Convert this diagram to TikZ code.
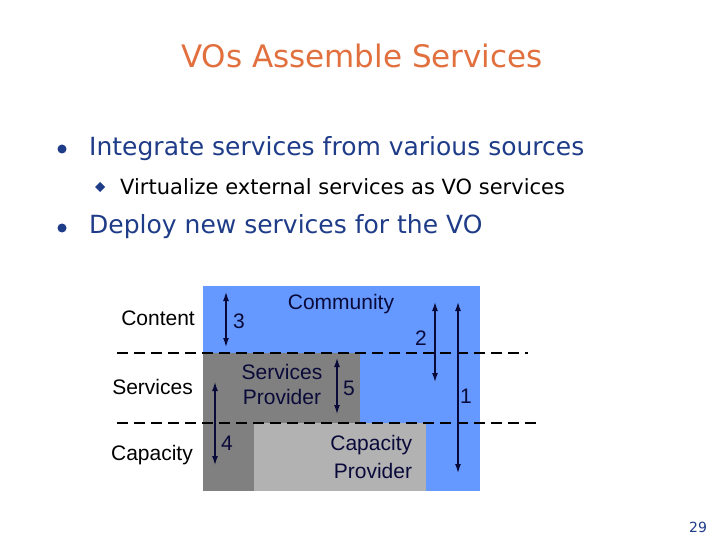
\documentclass[tikz,border=0pt]{standalone}
\usepackage{fontspec}
\setmainfont{DejaVu Sans}
\newfontfamily\arial{Liberation Sans}
\usetikzlibrary{arrows.meta}
\definecolor{ttl}{HTML}{E2703F}
\definecolor{bl}{HTML}{1F3C88}
\definecolor{navy}{HTML}{0A0A3A}
\definecolor{cblue}{HTML}{6699FF}
\definecolor{dgray}{HTML}{808080}
\definecolor{lgray}{HTML}{B2B2B2}
\tikzset{
 lbl/.style={font=\arial\fontsize{21}{24}\selectfont, text=black, inner sep=0},
 dlbl/.style={font=\arial\fontsize{21}{24}\selectfont, text=navy, inner sep=0, align=center},
 dbl/.style={{Latex[length=9pt,width=6pt]}-{Latex[length=9pt,width=6pt]}, line width=1.3pt, draw=navy},
 dashline/.style={line width=1.8pt, dash pattern=on 11pt off 6pt}
}
\begin{document}
\begin{tikzpicture}[x=1pt,y=-1pt]
\useasboundingbox[fill=white] (0,0) rectangle (720,540);
\node[font=\fontsize{31}{36}\selectfont, text=ttl] (title) at (362,56) {VOs Assemble Services};
\fill[bl] (62,149) circle (4.5);
\node[anchor=west, font=\fontsize{25}{30}\selectfont, text=bl, inner sep=0] (b1) at (89,149) {Integrate services from various sources};
\fill[bl] (95,187) -- (100,182) -- (105,187) -- (100,192) -- cycle;
\node[anchor=west, font=\fontsize{21}{26}\selectfont, text=black, inner sep=0] (b2) at (120,187) {Virtualize external services as VO services};
\fill[bl] (62,228) circle (4.5);
\node[anchor=west, font=\fontsize{25}{30}\selectfont, text=bl, inner sep=0] (b3) at (89,227) {Deploy new services for the VO};
% diagram
\fill[cblue] (203,286) rectangle (480,491);
\fill[dgray] (203,353) rectangle (360,423);
\fill[dgray] (203,423) rectangle (254,491);
\fill[lgray] (254,423) rectangle (426,491);
\draw[dashline] (117,353) -- (528,353);
\draw[dashline] (117,423) -- (537,423);
\node[lbl, anchor=east] (lc) at (195,318) {Content};
\node[lbl, anchor=east] (ls) at (193,387) {Services};
\node[lbl, anchor=east] (lcap) at (193,455) {Capacity};
\node[dlbl] (comm) at (341,304) {Community};
\node[dlbl, font=\arial\fontsize{21}{25}\selectfont] (sp) at (282,384) {Services\\Provider};
\node[dlbl, align=right, font=\arial\fontsize{21}{28}\selectfont] (cp) at (368,457) {Capacity\\\hspace*{10pt}Provider};
\coordinate (a3s) at (226,292); \coordinate (a3e) at (226,347);
\coordinate (a5s) at (337,358); \coordinate (a5e) at (337,414);
\coordinate (a4s) at (215,382); \coordinate (a4e) at (215,465);
\coordinate (a2s) at (435,302); \coordinate (a2e) at (435,382);
\coordinate (a1s) at (458,302); \coordinate (a1e) at (458,473);
\draw[dbl] (a3s) -- (a3e); \draw[dbl] (a5s) -- (a5e); \draw[dbl] (a4s) -- (a4e);
\draw[dbl] (a2s) -- (a2e); \draw[dbl] (a1s) -- (a1e);
\node[dlbl] (n3) at (239,321) {3};
\node[dlbl] (n5) at (349,388) {5};
\node[dlbl] (n4) at (227,443) {4};
\node[dlbl] (n2) at (421,338) {2};
\node[dlbl] (n1) at (466,396) {1};
\node[font=\fontsize{14}{16}\selectfont, text=bl] (pg) at (698,527) {29};
\end{tikzpicture}
\end{document}
